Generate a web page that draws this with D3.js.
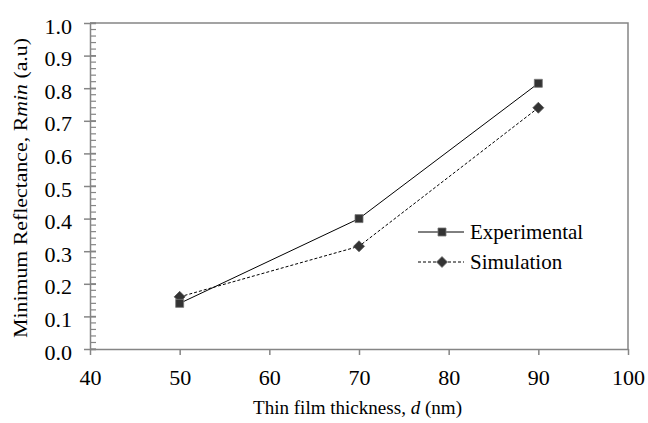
<!DOCTYPE html>
<html lang="en">
<head>
    <meta charset="UTF-8">
    <title>Minimum Reflectance vs Thickness</title>
    <script src="https://d3js.org/d3.v7.min.js"></script>
    <style>
        body { margin: 0; background: #fff; }
        svg { display: block; }
        svg text { font-family: "Liberation Serif", serif; fill: #000; }
        .tick text { font-size: 21px; }
        .axis path, .axis line { stroke: #858585; stroke-width: 1.5px; }
    </style>
</head>
<body>
    <svg width="648" height="423"></svg>
    <script>
        // data
        const thickness = [50, 70, 90];
        const experimental = [0.14, 0.40, 0.815];
        const simulation = [0.16, 0.315, 0.74];
        const xTicks = [40, 50, 60, 70, 80, 90, 100];
        const yTicks = [0, 0.1, 0.2, 0.3, 0.4, 0.5, 0.6, 0.7, 0.8, 0.9, 1.0];

        const margins = { top: 23, right: 20, bottom: 74, left: 90 };
        const width = 648, height = 423;
        const stretch = 1.05;
        const svg = d3.select("svg");

        const x = d3.scaleLinear().domain([40, 100]).range([margins.left, width - margins.right]);
        const y = d3.scaleLinear().domain([0, 1]).range([height - margins.bottom, margins.top]);

        function widen(sel, k) {
            sel.each(function () {
                const w = this.getComputedTextLength();
                d3.select(this).attr("textLength", w * k).attr("lengthAdjust", "spacingAndGlyphs");
            });
        }

        // frame on top and right
        svg.append("path")
            .attr("d", `M${x(40)},${y(1)}H${x(100)}V${y(0)}`)
            .attr("fill", "none")
            .attr("stroke", "#858585")
            .attr("stroke-width", 1.5);

        // minor y ticks (inside)
        const minor = d3.range(0, 1.001, 0.02);
        svg.append("g").selectAll("line")
            .data(minor)
            .enter().append("line")
            .attr("x1", x(40)).attr("x2", x(40) + 6)
            .attr("y1", d => y(d)).attr("y2", d => y(d))
            .attr("stroke", "#858585").attr("stroke-width", 1.2);

        // y axis: major ticks cross the axis
        const yAxis = svg.append("g").attr("class", "axis")
            .attr("transform", `translate(${x(40)},0)`)
            .call(d3.axisLeft(y).tickValues(yTicks).tickFormat(d3.format(".1f")).tickSizeInner(6).tickSizeOuter(0).tickPadding(12));
        yAxis.attr("font-family", null).attr("font-size", null);
        yAxis.selectAll(".tick line").attr("x1", 6);
        yAxis.selectAll(".tick text").attr("dy", "0.48em");
        widen(yAxis.selectAll(".tick text"), stretch);

        const xAxis = svg.append("g").attr("class", "axis")
            .attr("transform", `translate(0,${y(0)})`)
            .call(d3.axisBottom(x).tickValues(xTicks).tickSizeInner(6).tickSizeOuter(0).tickPadding(15));
        xAxis.attr("font-family", null).attr("font-size", null);
        widen(xAxis.selectAll(".tick text"), stretch);

        svg.selectAll(".axis .domain").attr("stroke", "#858585");

        // lines
        const line = d3.line().x(d => x(d[0])).y(d => y(d[1]));
        const expPts = thickness.map((t, i) => [t, experimental[i]]);
        const simPts = thickness.map((t, i) => [t, simulation[i]]);

        svg.append("path").datum(simPts)
            .attr("d", line).attr("fill", "none")
            .attr("stroke", "#000").attr("stroke-width", 1)
            .attr("stroke-dasharray", "3,2");
        svg.append("path").datum(expPts)
            .attr("d", line).attr("fill", "none")
            .attr("stroke", "#000").attr("stroke-width", 1);

        const square = () => "M-4,-4H4V4H-4Z";
        const diamond = () => "M0,-5.5L5.5,0L0,5.5L-5.5,0Z";

        svg.append("g").selectAll("path")
            .data(simPts).enter().append("path")
            .attr("d", diamond)
            .attr("transform", d => `translate(${x(d[0])},${y(d[1])})`)
            .attr("fill", "#333").attr("stroke", "#555").attr("stroke-width", 0.8);
        svg.append("g").selectAll("path")
            .data(expPts).enter().append("path")
            .attr("d", square)
            .attr("transform", d => `translate(${x(d[0])},${y(d[1])})`)
            .attr("fill", "#333").attr("stroke", "#777").attr("stroke-width", 0.8);

        // legend
        const legend = [
            { name: "Experimental", dash: null, sym: square, y: 232 },
            { name: "Simulation", dash: "3,2", sym: diamond, y: 262 }
        ];
        const lg = svg.append("g").selectAll("g")
            .data(legend).enter().append("g")
            .attr("transform", d => `translate(418,${d.y})`);
        lg.append("line")
            .attr("x1", 0).attr("x2", 46)
            .attr("stroke", "#000").attr("stroke-width", 1)
            .attr("stroke-dasharray", d => d.dash);
        lg.append("path")
            .attr("d", d => d.sym())
            .attr("transform", "translate(24,0)")
            .attr("fill", "#333").attr("stroke", "#777").attr("stroke-width", 0.8);
        lg.append("text")
            .attr("x", 52).attr("dy", "0.35em")
            .attr("font-size", 21)
            .text(d => d.name);

        // axis titles
        const xt = svg.append("text")
            .attr("x", 253).attr("y", 414)
            .attr("font-size", 19);
        xt.append("tspan").text("Thin film thickness, ");
        xt.append("tspan").attr("font-style", "italic").text("d");
        xt.append("tspan").text(" (nm)");
        xt.attr("textLength", 209).attr("lengthAdjust", "spacingAndGlyphs");

        const yt = svg.append("text")
            .attr("transform", `translate(27,${(y(0) + y(1)) / 2 + 2}) rotate(-90)`)
            .attr("text-anchor", "middle").attr("font-size", 19);
        yt.append("tspan").text("Minimum Reflectance, R");
        yt.append("tspan").attr("font-style", "italic").text("min");
        yt.append("tspan").text(" (a.u)");
        yt.attr("textLength", 300).attr("lengthAdjust", "spacingAndGlyphs");
    </script>
</body>
</html>
